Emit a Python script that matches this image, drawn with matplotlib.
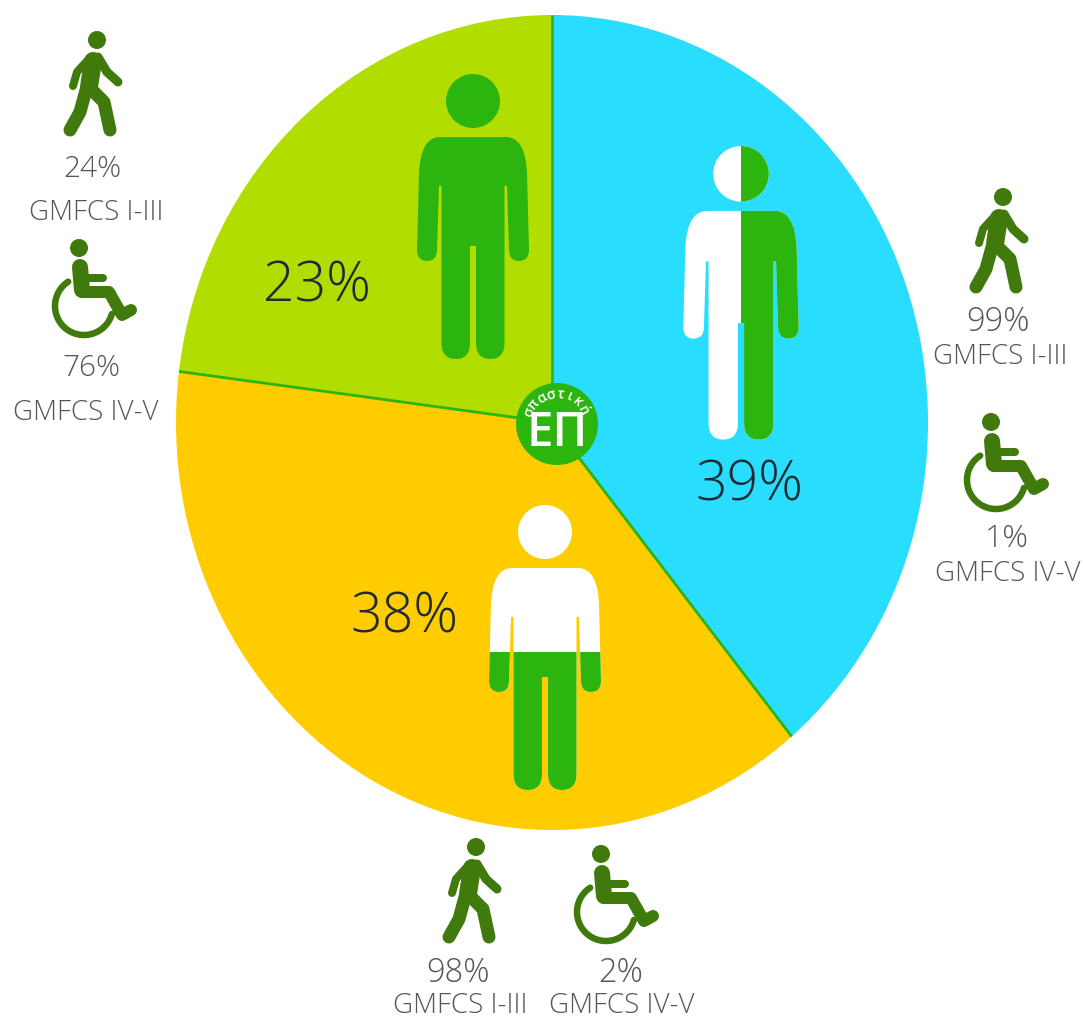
import numpy as np
import matplotlib
matplotlib.use('Agg')
import matplotlib.pyplot as plt
from matplotlib.path import Path
from matplotlib.patches import PathPatch, Circle, Rectangle

# Share of each group
slice_shares = [39, 38, 23]
slice_colors = ['#29DDFF', '#FFCC00', '#B2DD00']

# GMFCS split inside each group
gmfcs_mild = [99, 98, 24]
gmfcs_severe = [1, 2, 76]
mild_label = 'GMFCS I-III'
severe_label = 'GMFCS IV-V'

GREEN = '#2DB50F'
ICON = '#417A0C'
TEXT = '#565656'
DARK = '#1F2A33'
FONT = 'Open Sans'

W, H = 1083, 1019
fig = plt.figure(figsize=(W / 100, H / 100), dpi=100, facecolor='white')

# Pie is stretched a bit taller than wide
pie_ax = fig.add_axes([176 / W, 1 - 830 / H, 752 / W, 815 / H])
wedges, _ = pie_ax.pie(slice_shares, colors=slice_colors, startangle=90,
                       counterclock=False, radius=1,
                       wedgeprops={'linewidth': 0})
pie_ax.set_aspect('auto')
pie_ax.set_xlim(-1, 1)
pie_ax.set_ylim(-1, 1)

# Green spokes between slices
for c in np.cumsum([0] + slice_shares[:-1]):
    a = np.pi / 2 - 2 * np.pi * c / sum(slice_shares)
    pie_ax.plot([0, np.cos(a)], [0, np.sin(a)], color=GREEN, lw=2.0,
                solid_capstyle='butt')

# Second axes in pixel units for icons and text
ax = fig.add_axes([0, 0, 1, 1], facecolor='none')
ax.set_xlim(0, W)
ax.set_ylim(H, 0)
ax.axis('off')


def person_path(cx, top, s):
    # right half of the body outline, from the neck down to the leg gap
    L, Q = Path.LINETO, Path.CURVE3
    right = [((0, 63), Path.MOVETO), ((33, 63), L), ((52, 63), Q), ((54, 98), Q),
             ((56, 176), L), ((56, 187), Q), ((46, 187), Q), ((36, 187), Q),
             ((36, 176), Q), ((34, 112), L), ((31.5, 112), L), ((31.5, 269), L),
             ((31.5, 285), Q), ((17, 285), Q), ((3, 285), Q), ((3, 269), Q),
             ((3, 172), L), ((0, 172), L)]
    pts = [p for p, _ in right]
    codes = [c for _, c in right]
    # left half is the same outline walked backwards
    for i in range(len(right) - 2, -1, -1):
        pts.append((-pts[i][0], pts[i][1]))
        codes.append(codes[i + 1])
    return Path([(cx + x * s, top + y * s) for x, y in pts], codes)


def draw_person(cx, top, s, base, overlay=None, clip=None):
    head_r = 27 * s
    for color, clip_box in ((base, None), (overlay, clip)):
        if color is None:
            continue
        head = Circle((cx, top + head_r), head_r, fc=color, ec='none')
        body = PathPatch(person_path(cx, top, s), fc=color, ec='none')
        for p in (head, body):
            ax.add_patch(p)
            if clip_box is not None:
                r = Rectangle(clip_box[:2], clip_box[2], clip_box[3],
                              transform=ax.transData)
                p.set_clip_path(r)


def stroke(pts, width):
    xs, ys = zip(*pts)
    ax.plot(xs, ys, color=ICON, lw=width * 0.72, solid_capstyle='round',
            solid_joinstyle='round')


def walker(hx, hy):
    ax.add_patch(Circle((hx, hy), 9, fc=ICON, ec='none'))
    off = lambda p: [(hx + x, hy + y) for x, y in p]
    stroke(off([(-4, 21), (-8, 47)]), 18)
    stroke(off([(-10, 21), (-20, 32), (-24, 46)]), 8)
    stroke(off([(1, 17), (10, 32), (21, 42)]), 9)
    stroke(off([(-5, 50), (7, 62), (13, 90)]), 13)
    stroke(off([(-11, 50), (-17, 72), (-27, 90)]), 13)


def wheelchair(hx, hy):
    ax.add_patch(Circle((hx, hy), 9, fc=ICON, ec='none'))
    off = lambda p: [(hx + x, hy + y) for x, y in p]
    stroke(off([(1, 19), (3, 42)]), 16)
    stroke(off([(2, 30), (24, 30)]), 8)
    stroke(off([(3, 44), (30, 44), (43, 67), (52, 62)]), 12)
    t = np.radians(np.linspace(16, 237, 60))
    stroke(off(np.column_stack([5 + 29 * np.cos(t), 58 + 29 * np.sin(t)])), 6.5)


def small(x, y, s, size=20, color=TEXT):
    ax.text(x, y, s, ha='center', va='center', fontsize=size, color=color,
            family=FONT, fontweight='light')


# Figures inside the slices
draw_person(473, 74, 1.0, GREEN)
draw_person(741, 146, 1.03, 'white', GREEN, (741, 140, 70, 310))
draw_person(545, 505, 1.0, 'white', GREEN, (480, 652, 130, 150))

# Large slice percentages
for (x, y), v in zip([(749, 486), (404, 618), (317, 287)], slice_shares):
    ax.text(x, y, f'{v}%', ha='center', va='center', fontsize=40, color=DARK,
            family=FONT, fontweight='light')

# GMFCS icons and captions, in slice order
walker(1003, 197)
small(998, 322, f'{gmfcs_mild[0]}%', 23.5)
small(1000, 357, mild_label)
wheelchair(991, 422)
small(1007, 539, f'{gmfcs_severe[0]}%', 23)
small(1008, 574, severe_label)

walker(476, 847)
small(458, 973, f'{gmfcs_mild[1]}%', 23.5)
small(460, 1006, mild_label)
wheelchair(601, 854)
small(621, 973, f'{gmfcs_severe[1]}%', 23.5)
small(622, 1006, severe_label)

walker(97, 40)
small(92, 169, f'{gmfcs_mild[2]}%', 21.5)
small(96, 213, mild_label)
wheelchair(79, 248)
small(91, 368, f'{gmfcs_severe[2]}%', 21.5)
small(86, 413, severe_label)

# Round badge at the pie centre
lx, ly, lr = 557, 424, 41
ax.add_patch(Circle((lx, ly), lr, fc=GREEN, ec='none'))
ax.text(lx, ly + 9, 'ΕΠ', ha='center', va='center', fontsize=34, color='white',
        family=FONT, fontweight='semibold')
word = 'σπαστική'
for ch, deg in zip(word, np.linspace(158, 28, len(word))):
    a = np.radians(deg)
    ax.text(lx + 30 * np.cos(a), ly - 30 * np.sin(a), ch, ha='center',
            va='center', fontsize=10, color='white', rotation=deg - 90,
            family=FONT, fontweight='semibold')

fig.savefig('out.png', dpi=100)
